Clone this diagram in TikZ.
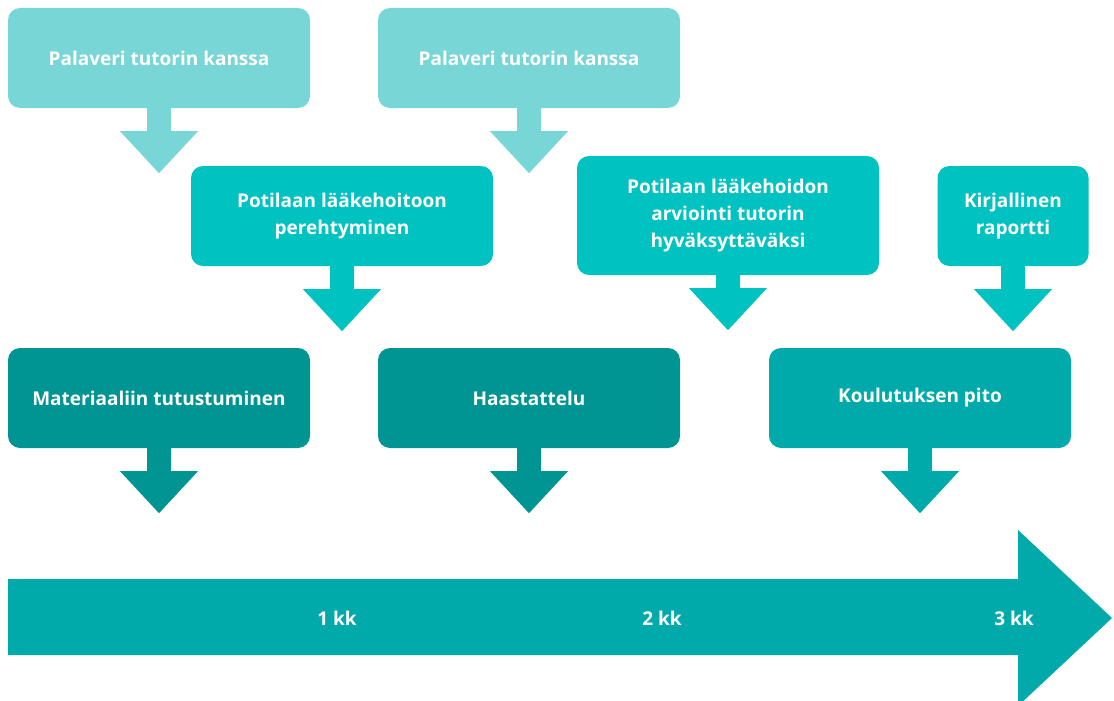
\documentclass[tikz,border=0pt]{standalone}
\usepackage{fontspec}
\setmainfont{Open Sans}
\usetikzlibrary{calc,positioning}

\definecolor{tealLight}{HTML}{79D6D6}
\definecolor{tealMid}{HTML}{00C2C0}
\definecolor{tealDark}{HTML}{009492}
\definecolor{tealBar}{HTML}{00AAAA}

\tikzset{
  stepbox/.style={rounded corners=12pt,minimum width=302pt,minimum height=100pt,
    inner sep=0pt,text=white,align=center,font=\bfseries\fontsize{19}{27}\selectfont},
  kklabel/.style={text=white,font=\bfseries\fontsize{19}{20}\selectfont}
}

% block arrow under a box: node, stem length, colour
\newcommand{\downblock}[3]{
  \fill[#3] ($(#1.south)+(-12,0)$) -- ++(0,#2) -- ++(-27,0)
    -- ($(#1.south)+(0,#2+42)$) -- ($(#1.south)+(39,#2)$)
    -- ++(-27,0) -- ($(#1.south)+(12,0)$) -- cycle;
}

\begin{document}
\begin{tikzpicture}[x=1pt,y=-1pt]
  \useasboundingbox (0,0) rectangle (1114,701);

  % top row
  \node[stepbox,fill=tealLight] (pal1) at (159,58) {Palaveri tutorin kanssa};
  \node[stepbox,fill=tealLight] (pal2) at (529,58) {Palaveri tutorin kanssa};

  % middle row
  \node[stepbox,fill=tealMid] (pereh) at (342,216) {Potilaan lääkehoitoon\\perehtyminen};
  \node[stepbox,fill=tealMid,minimum height=119pt] (arvio) at (728,215.5) {Potilaan lääkehoidon\\arviointi tutorin\\hyväksyttäväksi};
  \node[stepbox,fill=tealMid,minimum width=151pt] (rap) at (1013,216) {Kirjallinen\\raportti};

  % bottom row
  \node[stepbox,fill=tealDark] (mat) at (159,398) {Materiaaliin tutustuminen};
  \node[stepbox,fill=tealDark] (haas) at (529,398) {Haastattelu};
  \node[stepbox,fill=tealBar] (koul) at (920,398) {Koulutuksen pito};

  \downblock{pal1}{23}{tealLight}
  \downblock{pal2}{23}{tealLight}
  \downblock{pereh}{23}{tealMid}
  \downblock{arvio}{13}{tealMid}
  \downblock{rap}{23}{tealMid}
  \downblock{mat}{23}{tealDark}
  \downblock{haas}{23}{tealDark}
  \downblock{koul}{23}{tealBar}

  % time line
  \fill[tealBar] (8,579) -- (1018,579) -- (1018,530) -- (1112,618)
    -- (1018,706) -- (1018,655) -- (8,655) -- cycle;
  \node[kklabel] (kk1) at (337,618) {1 kk};
  \node[kklabel] (kk2) at (662,618) {2 kk};
  \node[kklabel] (kk3) at (1014,618) {3 kk};
\end{tikzpicture}
\end{document}
